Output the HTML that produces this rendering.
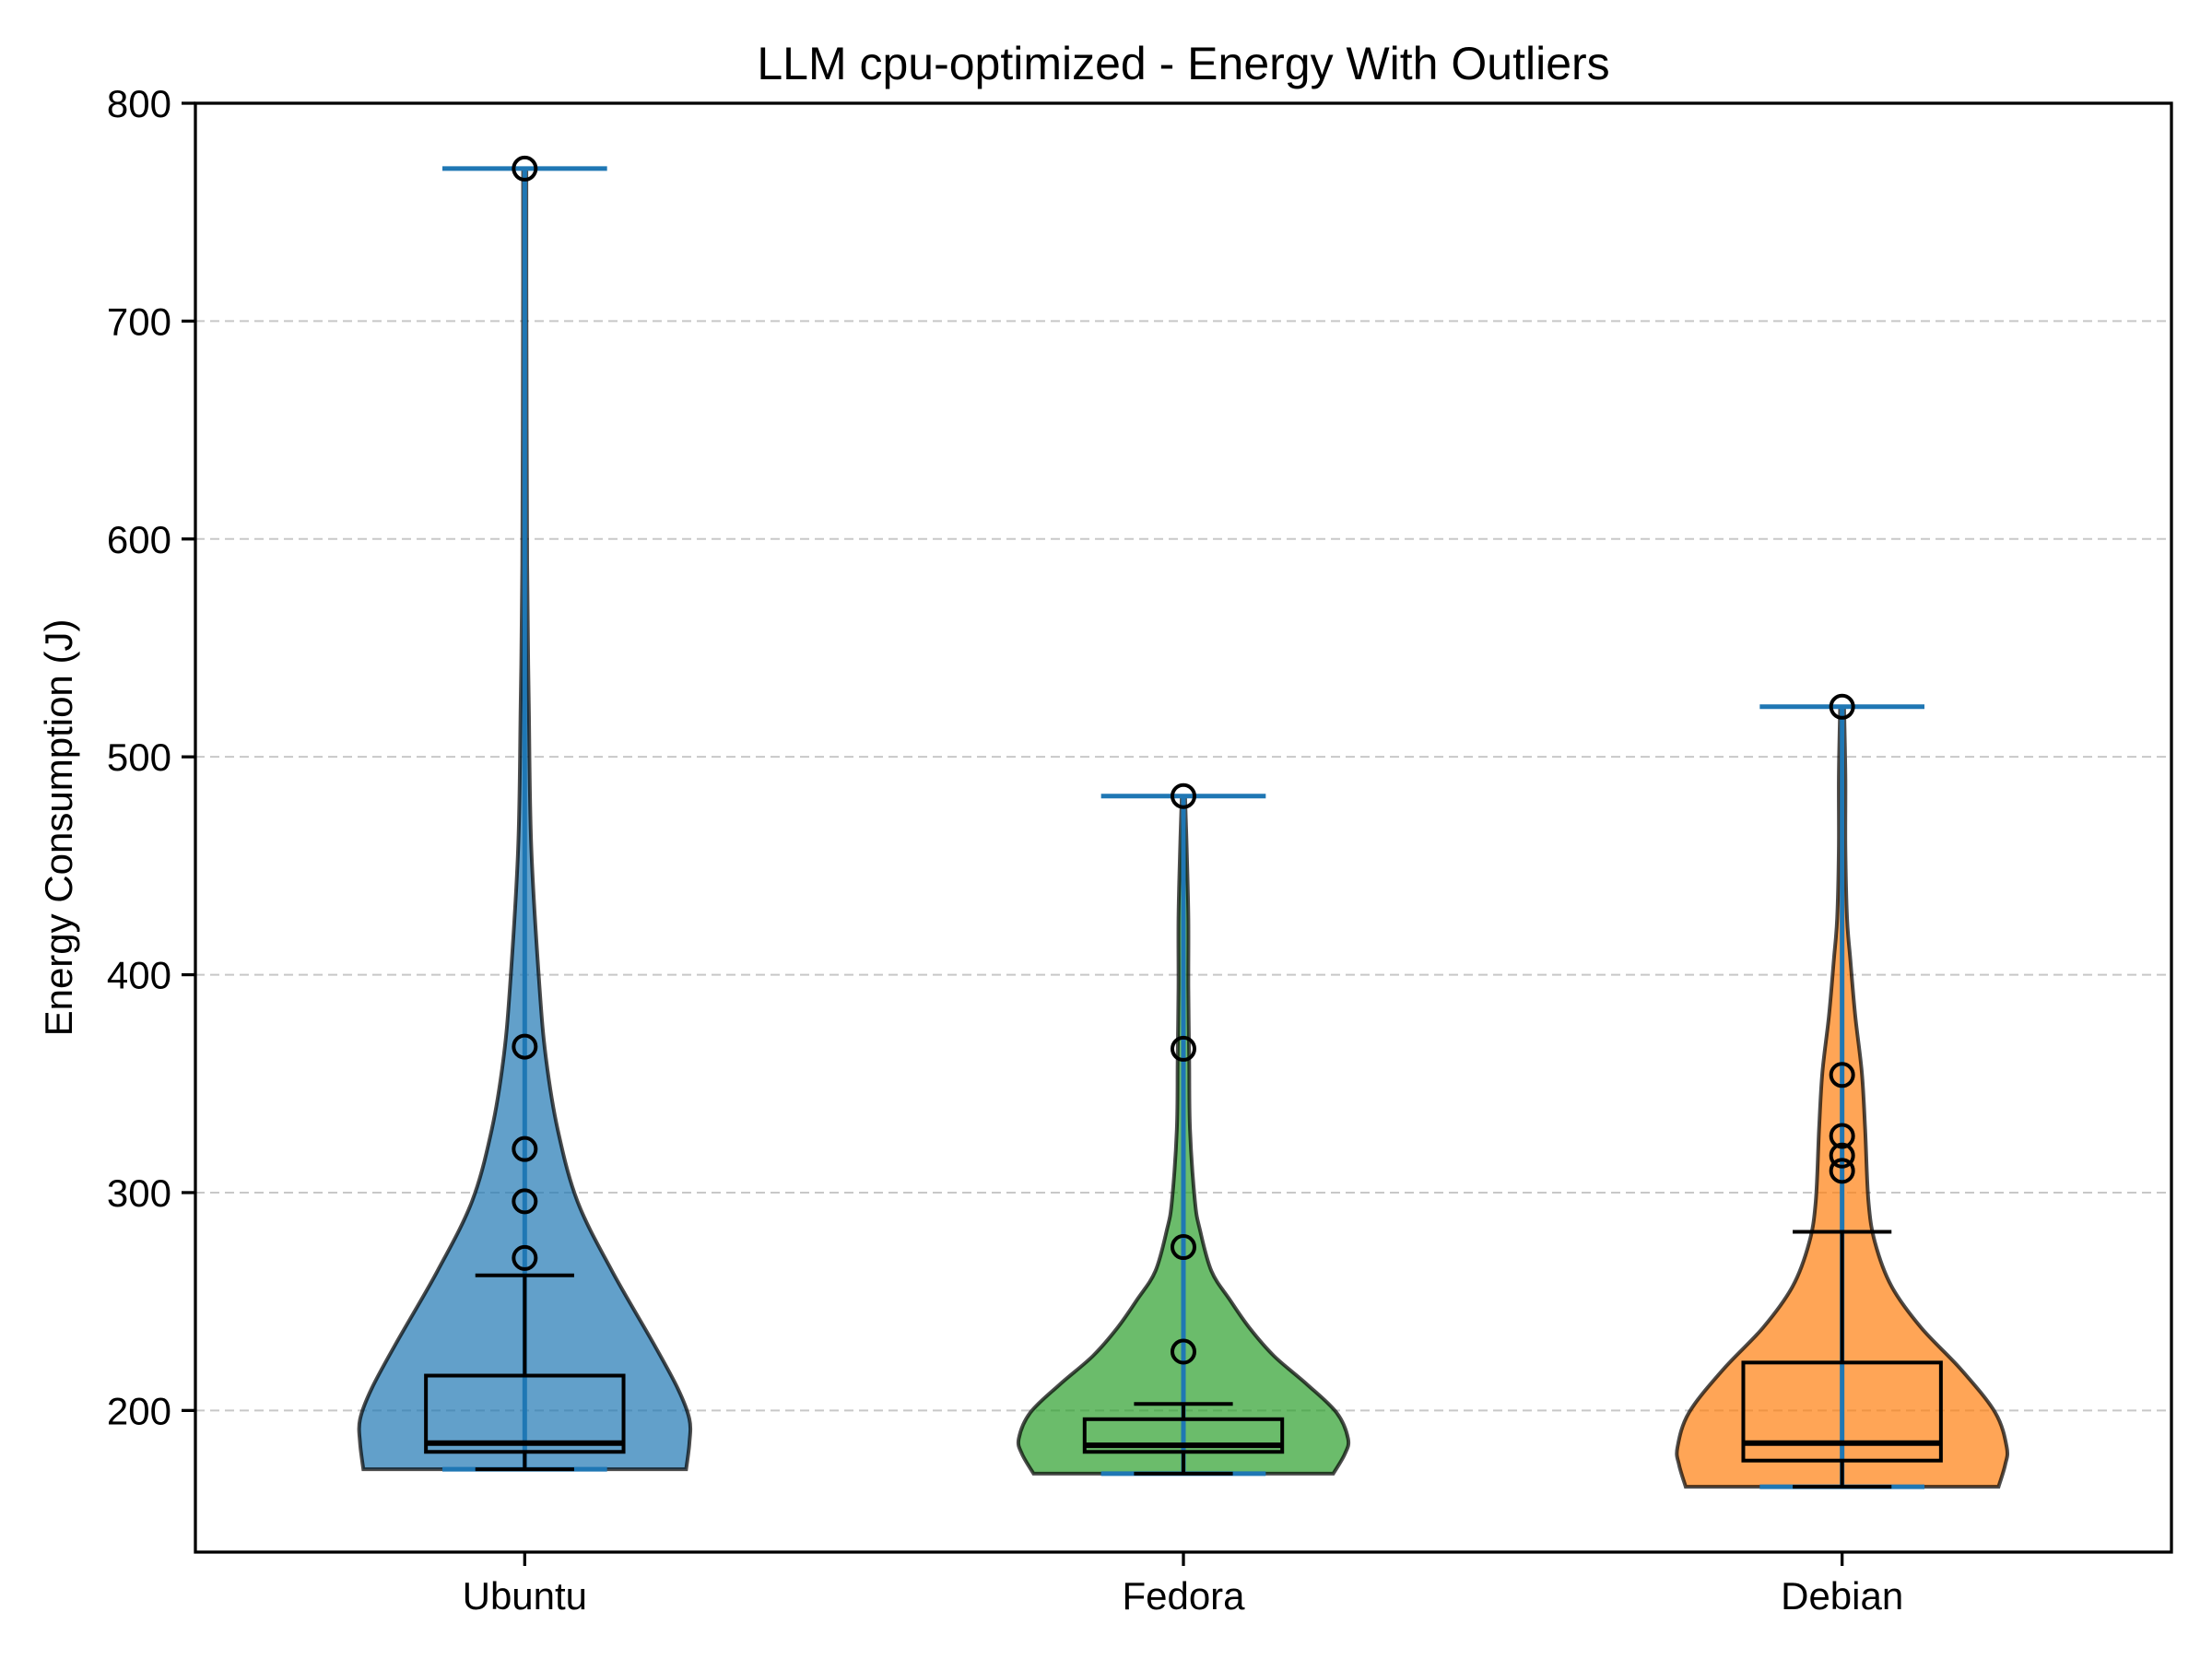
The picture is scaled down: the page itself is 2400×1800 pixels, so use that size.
<!DOCTYPE html>
<html><head><meta charset="utf-8"><style>
html,body{margin:0;padding:0;background:#fff}
svg{display:block;font-family:"Liberation Sans","DejaVu Sans",sans-serif}
</style></head><body>
<svg id="chart" width="2400" height="1800" viewBox="0 0 2400 1800" xmlns="http://www.w3.org/2000/svg">
<rect width="2400" height="1800" fill="#fff"/>
<g id="grid"></g><g id="bodies"></g><g id="marks"></g><g id="axes"></g>
</svg>
<script>
const categories = ["Ubuntu","Fedora","Debian"];
const colors = ["#1f77b4","#2ca02c","#ff7f0e"];
const yTicks = [200,300,400,500,600,700,800];
// violin profiles: [value, relative half-width]
const ubuntuProfile = [[173,0.98],[185,1.0],[196,1.0],[210,0.93],[231,0.78],[264,0.53],[296,0.32],[329,0.2],[361,0.13],[394,0.09],[458,0.04],[523,0.025],[588,0.015],[718,0.01],[770,0.01]];
const fedoraProfile = [[171,0.91],[180,0.98],[187,1.0],[199,0.93],[212,0.75],[225,0.55],[238,0.4],[251,0.28],[264,0.17],[283,0.1],[296,0.07],[329,0.04],[361,0.035],[394,0.03],[426,0.03],[458,0.02],[482,0.01]];
const debianProfile = [[165,0.95],[175,0.99],[183,1.0],[199,0.93],[219,0.72],[238,0.48],[257,0.3],[277,0.2],[296,0.16],[329,0.14],[355,0.12],[381,0.08],[407,0.05],[426,0.03],[458,0.02],[491,0.02],[523,0.012]];
const profiles = [ubuntuProfile, fedoraProfile, debianProfile];
const mins = [173,171,165];
const maxs = [770,482,523];
const q1s = [181,181,177];
const medians = [185,184,185];
const q3s = [216,196,222];
const whiskerHi = [262,203,282];
const outliersUbuntu = [270,296,320,367,770];
const outliersFedora = [227,275,366,482];
const outliersDebian = [310,317,326,354,523];
const outliers = [outliersUbuntu, outliersFedora, outliersDebian];

const X0=212,X1=2356,Y0=112,Y1=1684,XMIN=0.5,XMAX=3.5,YMIN=135,YMAX=800;
const sx = v => X0 + (v-XMIN)/(XMAX-XMIN)*(X1-X0);
const sy = v => Y1 - (v-YMIN)/(YMAX-YMIN)*(Y1-Y0);
const NS="http://www.w3.org/2000/svg";
function mk(parent,tag,attrs){const e=document.createElementNS(NS,tag);for(const k in attrs)e.setAttribute(k,attrs[k]);document.getElementById(parent).appendChild(e);return e;}
const W = sx(1.25)-sx(1);

yTicks.forEach(t=>{
  const g=mk('grid','line',{x1:X0,x2:X1,y1:sy(t),y2:sy(t),stroke:'#b0b0b0','stroke-width':2,'stroke-dasharray':'10,6','stroke-opacity':0.7});
  
  
});

function smooth(pts){
  let d='M'+pts[0][0]+','+pts[0][1];
  for(let i=0;i<pts.length-1;i++){
    const p0=pts[Math.max(0,i-1)],p1=pts[i],p2=pts[i+1],p3=pts[Math.min(pts.length-1,i+2)];
    const c1=[p1[0]+(p2[0]-p0[0])/6,p1[1]+(p2[1]-p0[1])/6];
    const c2=[p2[0]-(p3[0]-p1[0])/6,p2[1]-(p3[1]-p1[1])/6];
    d+=' C'+c1[0]+','+c1[1]+' '+c2[0]+','+c2[1]+' '+p2[0]+','+p2[1];
  }
  return d;
}

categories.forEach((c,i)=>{
  const cx=sx(i+1), prof=profiles[i];
  const right=prof.map(p=>[cx+p[1]*W,sy(p[0])]);
  const left=prof.map(p=>[cx-p[1]*W,sy(p[0])]).reverse();
  let d=smooth(right)+' L'+left[0][0]+','+left[0][1]+smooth(left).replace(/^M[^ C]+/,'')+' Z';
  const b=mk('bodies','path',{d:d,fill:colors[i],'fill-opacity':0.7,stroke:'#000','stroke-opacity':0.7,'stroke-width':4});
  
  
  const cap=W*0.5;
  const bar=mk('marks','line',{x1:cx,x2:cx,y1:sy(mins[i]),y2:sy(maxs[i]),stroke:'#1f77b4','stroke-width':5});
  
  
  const tmax=mk('marks','line',{x1:cx-cap,x2:cx+cap,y1:sy(maxs[i]),y2:sy(maxs[i]),stroke:'#1f77b4','stroke-width':5});
  
  
  const tmin=mk('marks','line',{x1:cx-cap,x2:cx+cap,y1:sy(mins[i]),y2:sy(mins[i]),stroke:'#1f77b4','stroke-width':5});
  
  
  const bw=sx(1.15)-sx(1), cw=sx(1.075)-sx(1);
  const box=mk('marks','rect',{x:cx-bw,y:sy(q3s[i]),width:2*bw,height:sy(q1s[i])-sy(q3s[i]),fill:'none',stroke:'#000','stroke-width':4});
  
  
  const med=mk('marks','line',{x1:cx-bw,x2:cx+bw,y1:sy(medians[i]),y2:sy(medians[i]),stroke:'#000','stroke-width':6});
  
  
  const wh=mk('marks','line',{x1:cx,x2:cx,y1:sy(q3s[i]),y2:sy(whiskerHi[i]),stroke:'#000','stroke-width':4});
  
  
  const wl=mk('marks','line',{x1:cx,x2:cx,y1:sy(q1s[i]),y2:sy(mins[i]),stroke:'#000','stroke-width':4});
  
  
  [whiskerHi[i],mins[i]].forEach((v,k)=>{
    const cp=mk('marks','line',{x1:cx-cw,x2:cx+cw,y1:sy(v),y2:sy(v),stroke:'#000','stroke-width':4});
    
    
  });
  outliers[i].forEach(v=>{
    const o=mk('marks','circle',{cx:cx,cy:sy(v),r:12,fill:'none',stroke:'#000','stroke-width':4});
    
    
  });
  const tk=mk('axes','line',{x1:cx,x2:cx,y1:Y1,y2:Y1+15,stroke:'#000','stroke-width':3.3});
  
  
  const lb=mk('axes','text',{x:cx,y:Y1+62,'font-size':42,'text-anchor':'middle',fill:'#000'});
  lb.textContent=c;
  
  
});

yTicks.forEach(t=>{
  const tk=mk('axes','line',{x1:X0-15,x2:X0,y1:sy(t),y2:sy(t),stroke:'#000','stroke-width':3.3});
  
  
  const lb=mk('axes','text',{x:X0-26,y:sy(t)+15,'font-size':42,'text-anchor':'end',fill:'#000'});
  lb.textContent=t;
  
  
});
const fr=mk('axes','rect',{x:X0,y:Y0,width:X1-X0,height:Y1-Y0,fill:'none',stroke:'#000','stroke-width':3.3});


const ti=mk('axes','text',{x:(X0+X1)/2,y:86,'font-size':50,'text-anchor':'middle',fill:'#000'});
ti.textContent='LLM cpu-optimized - Energy With Outliers';


const yl=mk('axes','text',{x:0,y:0,'font-size':42,'text-anchor':'middle',fill:'#000',transform:'translate(78,'+((Y0+Y1)/2)+') rotate(-90)'});
yl.textContent='Energy Consumption (J)';


</script>
</body></html>
